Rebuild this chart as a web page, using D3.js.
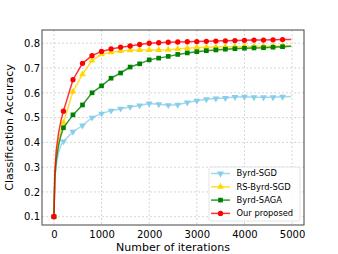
<!DOCTYPE html>
<html>
<head>
<meta charset="utf-8">
<script src="https://cdn.jsdelivr.net/npm/d3@7"></script>
<style>
  body { margin: 0; background: #fff; }
  text { font-family: "DejaVu Sans", sans-serif; fill: #000; }
</style>
</head>
<body>
<div id="chart"></div>
<script>
// iterations (markers drawn every 200 up to 4800)
const iters = [0, 20, 50, 100, 150, 200, 400, 600, 800, 1000, 1200, 1400, 1600, 1800, 2000,
  2200, 2400, 2600, 2800, 3000, 3200, 3400, 3600, 3800, 4000, 4200, 4400, 4600, 4800, 4980];

const byrdSGD = [0.1, 0.25, 0.31, 0.36, 0.39, 0.404, 0.443, 0.468, 0.500, 0.516, 0.528, 0.536, 0.543, 0.549, 0.557,
  0.554, 0.550, 0.552, 0.561, 0.568, 0.574, 0.577, 0.579, 0.583, 0.584, 0.582, 0.582, 0.582, 0.584, 0.585];
const rsByrdSGD = [0.1, 0.27, 0.35, 0.41, 0.45, 0.479, 0.605, 0.675, 0.730, 0.755, 0.764, 0.769, 0.772, 0.773, 0.773,
  0.773, 0.774, 0.777, 0.780, 0.783, 0.784, 0.785, 0.786, 0.786, 0.787, 0.787, 0.788, 0.788, 0.789, 0.789];
const byrdSAGA = [0.1, 0.26, 0.33, 0.39, 0.43, 0.459, 0.511, 0.551, 0.600, 0.628, 0.659, 0.680, 0.704, 0.717, 0.733,
  0.740, 0.747, 0.755, 0.761, 0.766, 0.770, 0.773, 0.776, 0.778, 0.780, 0.781, 0.782, 0.784, 0.786, 0.788];
const ourProposed = [0.1, 0.28, 0.37, 0.44, 0.49, 0.526, 0.653, 0.719, 0.750, 0.767, 0.777, 0.784, 0.789, 0.795, 0.800,
  0.802, 0.804, 0.805, 0.806, 0.807, 0.808, 0.809, 0.810, 0.811, 0.812, 0.813, 0.813, 0.814, 0.815, 0.815];

const xTicks = [0, 1000, 2000, 3000, 4000, 5000];
const yTicks = [0.1, 0.2, 0.3, 0.4, 0.5, 0.6, 0.7, 0.8];

const series = [
  { name: "Byrd-SGD", values: byrdSGD, color: "#87CEEB", marker: "triDown" },
  { name: "RS-Byrd-SGD", values: rsByrdSGD, color: "#FFD700", marker: "triUp" },
  { name: "Byrd-SAGA", values: byrdSAGA, color: "#008000", marker: "square" },
  { name: "Our proposed", values: ourProposed, color: "#FF0000", marker: "circle" }
];

const width = 338, height = 254;
const margin = { left: 42, top: 30, right: 34, bottom: 29 };

const svg = d3.select("#chart").append("svg")
  .attr("width", width).attr("height", height);

const x = d3.scaleLinear().domain([-250, 5250]).range([margin.left, width - margin.right]);
const y = d3.scaleLinear().domain([0.0665, 0.8535]).range([height - margin.bottom, margin.top]);

// grid
const grid = svg.append("g").attr("stroke", "#ccc").attr("stroke-width", 0.8).attr("stroke-dasharray", "2,2");
grid.selectAll(".gx").data(xTicks).enter().append("line")
  .attr("x1", d => x(d)).attr("x2", d => x(d))
  .attr("y1", margin.top).attr("y2", height - margin.bottom);
grid.selectAll(".gy").data(yTicks).enter().append("line")
  .attr("x1", margin.left).attr("x2", width - margin.right)
  .attr("y1", d => y(d)).attr("y2", d => y(d));

// axes
const xAxis = svg.append("g")
  .attr("transform", `translate(0,${height - margin.bottom})`)
  .call(d3.axisBottom(x).tickValues(xTicks).tickSize(0).tickPadding(6).tickFormat(d3.format("d")));
const yAxis = svg.append("g")
  .attr("transform", `translate(${margin.left},0)`)
  .call(d3.axisLeft(y).tickValues(yTicks).tickSize(0).tickPadding(2).tickFormat(d3.format(".1f")));
[xAxis, yAxis].forEach(a => {
  a.select(".domain").remove();
  a.selectAll("text").attr("font-size", 10).style("font-family", "DejaVu Sans");
});

// marker shapes
const sym = {
  circle: d3.symbol().type(d3.symbolCircle).size(22),
  square: d3.symbol().type(d3.symbolSquare).size(22),
  triUp: d3.symbol().type(d3.symbolTriangle).size(20)
};
function markerPath(kind) {
  if (kind === "triDown") return sym.triUp();
  return sym[kind]();
}
function markerTransform(kind, px, py) {
  return kind === "triDown" ? `translate(${px},${py}) rotate(180)` : `translate(${px},${py})`;
}

const line = d3.line().x((d, i) => x(iters[i])).y(d => y(d));

series.forEach(s => {
  const g = svg.append("g");
  g.append("path").datum(s.values)
    .attr("d", line)
    .attr("fill", "none").attr("stroke", s.color)
    .attr("stroke-width", 1.5).attr("stroke-opacity", 0.8);
  const pts = s.values.map((v, i) => ({ it: iters[i], v })).filter(p => p.it % 200 === 0 && p.it <= 4800);
  g.selectAll("path.m").data(pts).enter().append("path")
    .attr("class", "m")
    .attr("d", markerPath(s.marker))
    .attr("transform", p => markerTransform(s.marker, x(p.it), y(p.v)))
    .attr("fill", s.color);
});

// frame
svg.append("rect")
  .attr("x", margin.left).attr("y", margin.top)
  .attr("width", width - margin.left - margin.right)
  .attr("height", height - margin.top - margin.bottom)
  .attr("fill", "none").attr("stroke", "#444").attr("stroke-width", 1);

// axis labels
svg.append("text")
  .attr("x", (margin.left + width - margin.right) / 2).attr("y", 251)
  .attr("text-anchor", "middle").attr("font-size", 11)
  .text("Number of iterations");
svg.append("text")
  .attr("transform", `translate(12.5,${(margin.top + height - margin.bottom) / 2}) rotate(-90)`)
  .attr("text-anchor", "middle").attr("font-size", 11)
  .text("Classification Accuracy");

// legend
const lg = svg.append("g").attr("transform", "translate(209,167)");
lg.append("rect").attr("width", 91).attr("height", 54).attr("rx", 2)
  .attr("fill", "#fff").attr("fill-opacity", 0.8)
  .attr("stroke", "#ddd").attr("stroke-width", 0.8);
series.forEach((s, i) => {
  const cy = 6.5 + i * 13.3;
  lg.append("line").attr("x1", 2).attr("x2", 21).attr("y1", cy).attr("y2", cy)
    .attr("stroke", s.color).attr("stroke-width", 1.5).attr("stroke-opacity", 0.8);
  lg.append("path").attr("d", markerPath(s.marker))
    .attr("transform", markerTransform(s.marker, 11.5, cy))
    .attr("fill", s.color);
  lg.append("text").attr("x", 27.5).attr("y", cy).attr("dy", "0.35em")
    .attr("font-size", 8.33).text(s.name);
});
</script>
</body>
</html>
